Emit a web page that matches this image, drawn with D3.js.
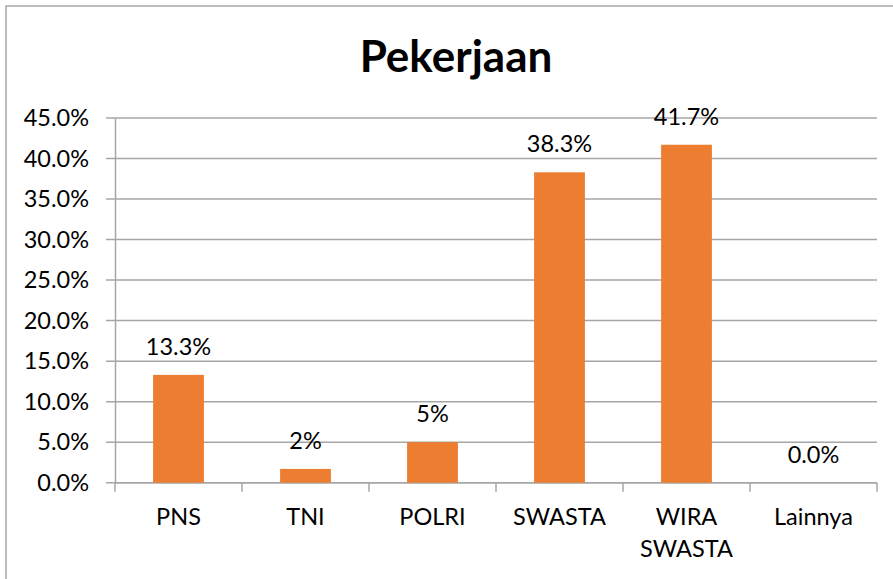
<!DOCTYPE html>
<html><head><meta charset="utf-8">
<script src="https://cdn.jsdelivr.net/npm/d3@7"></script>
<style>body{margin:0;background:#fff}svg{display:block}</style>
</head><body>
<svg id="c" width="893" height="579"></svg>
<script>
const categories = ["PNS", "TNI", "POLRI", "SWASTA", "WIRA SWASTA", "Lainnya"];
const values = [13.3, 1.7, 5.0, 38.3, 41.7, 0.0];
const valueLabels = ["13.3%", "2%", "5%", "38.3%", "41.7%", "0.0%"];
const yTicks = [0, 5, 10, 15, 20, 25, 30, 35, 40, 45];
const title = "Pekerjaan";

const svg = d3.select("#c");
const font = "Lato, 'Open Sans', sans-serif";
const m = {left: 115, right: 877, top: 118, bottom: 482.7};

svg.append("rect").attr("x", 6).attr("y", 6).attr("width", 900).attr("height", 600)
  .attr("fill", "#fff").attr("stroke", "#a6a6a6").attr("stroke-width", 1.5);

const x = d3.scaleBand().domain(categories).range([m.left, m.right]).paddingInner(0.6).paddingOuter(0.3);
const y = d3.scaleLinear().domain([0, 45]).range([m.bottom, m.top]);

// gridlines
svg.append("g").selectAll("line").data(yTicks).join("line")
  .attr("x1", m.left - 9).attr("x2", m.right)
  .attr("y1", d => y(d)).attr("y2", d => y(d))
  .attr("stroke", "#a6a6a6").attr("stroke-width", 1.5);

// y axis
const yAxis = d3.axisLeft(y).tickValues(yTicks).tickSize(0).tickPadding(26)
  .tickFormat(d => d.toFixed(1) + "%");
const gy = svg.append("g").attr("transform", `translate(${m.left},0)`).call(yAxis);
gy.select(".domain").attr("stroke", "#a6a6a6").attr("stroke-width", 1.5);
gy.selectAll("text").attr("font-family", font).attr("font-size", 23.5).attr("fill", "#000");

// x axis
const xAxis = d3.axisBottom(x).tickSize(0).tickFormat("");
const gx = svg.append("g").attr("transform", `translate(0,${m.bottom})`).call(xAxis);
gx.select(".domain").remove();
const step = x.step();
const bounds = d3.range(categories.length + 1).map(i => m.left + i * step);
svg.append("g").selectAll("line").data(bounds).join("line")
  .attr("x1", d => d).attr("x2", d => d).attr("y1", m.bottom).attr("y2", m.bottom + 9)
  .attr("stroke", "#a6a6a6").attr("stroke-width", 1.5);
svg.append("line").attr("x1", m.left).attr("x2", m.right).attr("y1", m.bottom).attr("y2", m.bottom)
  .attr("stroke", "#a6a6a6").attr("stroke-width", 1.5);

// category labels
const cl = svg.append("g").selectAll("text").data(categories).join("text")
  .attr("x", d => x(d) + x.bandwidth() / 2).attr("y", 525)
  .attr("text-anchor", "middle").attr("font-family", font).attr("font-size", 23.5).attr("fill", "#000");
cl.each(function(d) {
  const words = d.split(" ");
  const t = d3.select(this);
  words.forEach((w, i) => t.append("tspan").attr("x", x(d) + x.bandwidth() / 2).attr("dy", i === 0 ? 0 : 32).text(w));
});

// bars
svg.append("g").selectAll("rect").data(values).join("rect")
  .attr("x", (d, i) => x(categories[i])).attr("width", x.bandwidth())
  .attr("y", d => y(d)).attr("height", d => y(0) - y(d))
  .attr("fill", "#ed7d31");

// value labels
svg.append("g").selectAll("text").data(values).join("text")
  .attr("x", (d, i) => x(categories[i]) + x.bandwidth() / 2)
  .attr("y", d => y(d) - 20)
  .attr("text-anchor", "middle").attr("font-family", font).attr("font-size", 23.5).attr("fill", "#000")
  .text((d, i) => valueLabels[i]);

// title
svg.append("text").attr("x", 456).attr("y", 72).attr("text-anchor", "middle")
  .attr("font-family", font).attr("font-weight", "bold").attr("font-size", 44).attr("fill", "#000")
  .text(title);
</script>
</body></html>
